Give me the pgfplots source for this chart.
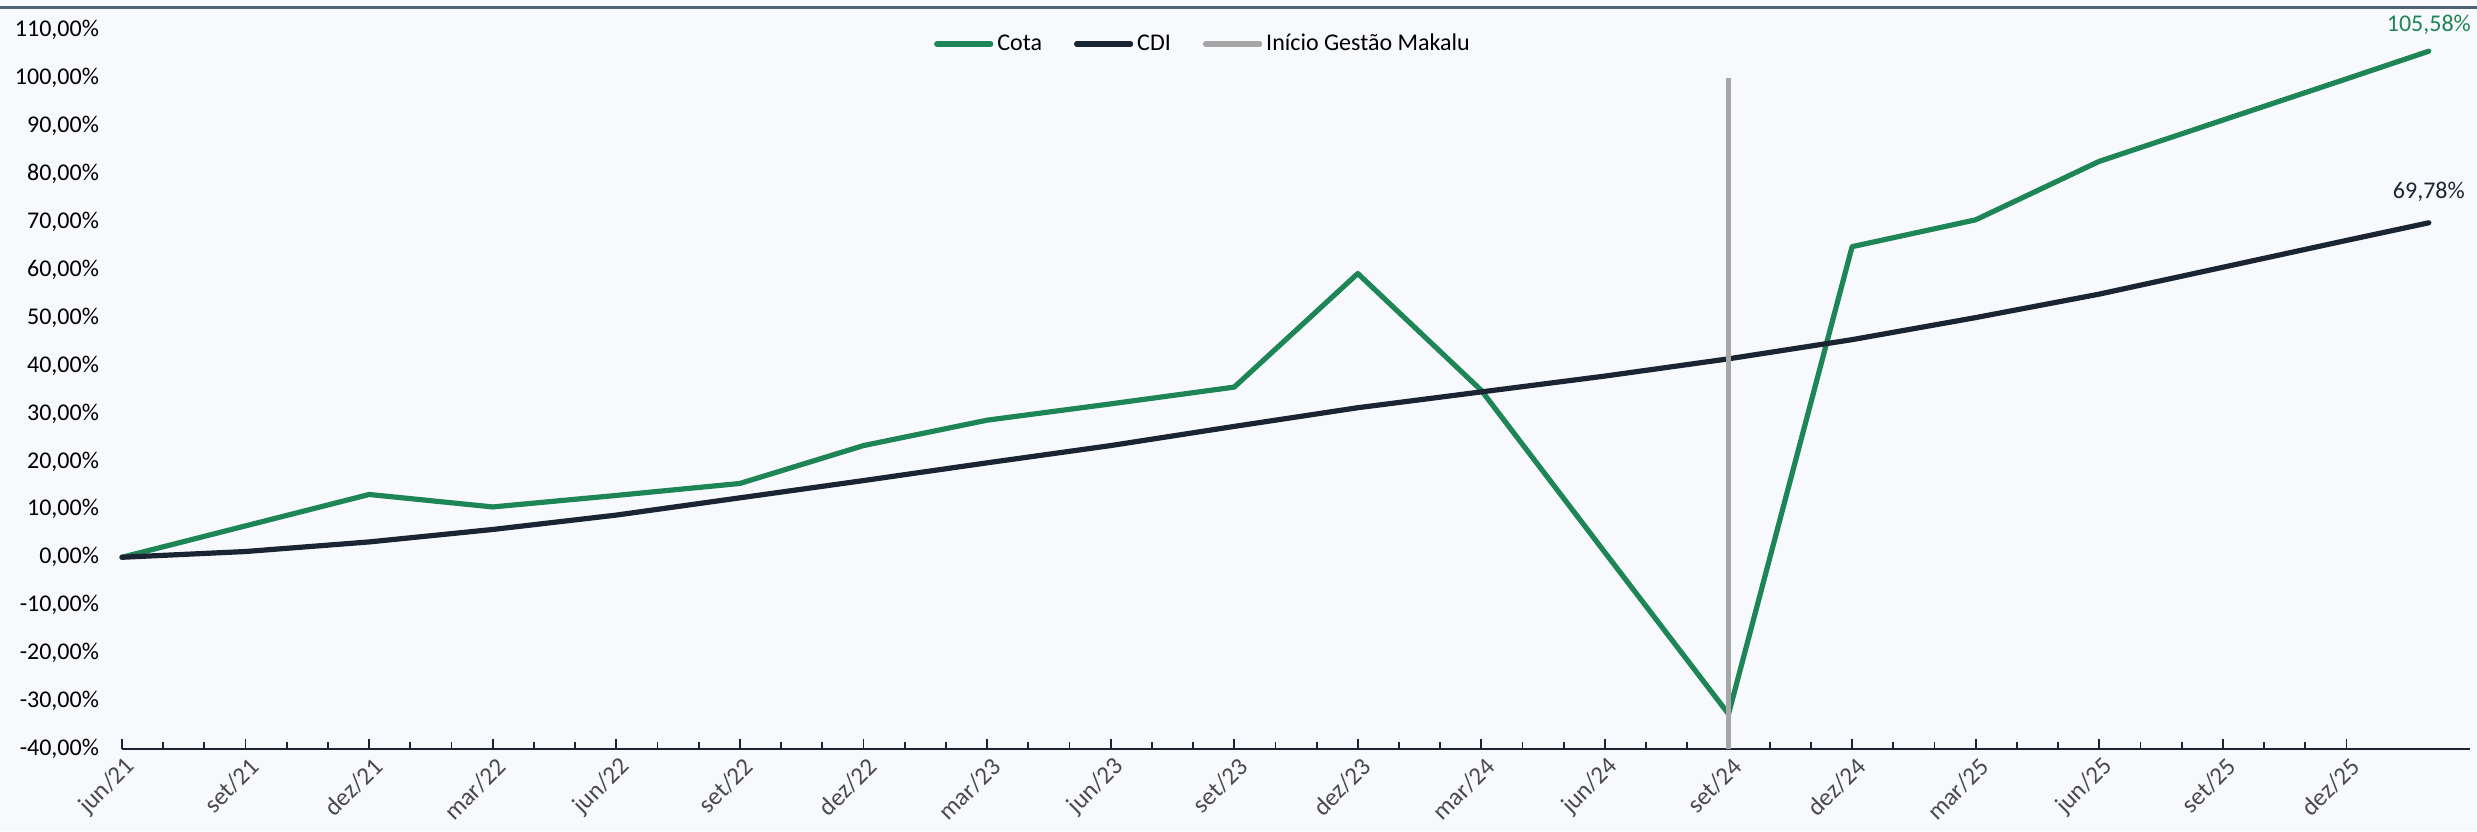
\documentclass[border=0pt]{standalone}
\usepackage{fontspec}
\setmainfont{Carlito}
\usepackage{pgfplots}
\pgfplotsset{compat=1.18}
\usepackage{pgfplotstable}
\definecolor{bgc}{HTML}{F8F9FD}
\definecolor{topc}{HTML}{4F6278}
\definecolor{cota}{HTML}{1E8656}
\definecolor{cdi}{HTML}{1B2433}
\definecolor{gest}{HTML}{A6A6A6}
\definecolor{xlab}{HTML}{4A4A4A}

\pgfplotstableread{
m v
0 0
3 6.55
6 13.1
9 10.5
12 12.9
15 15.4
18 23.3
21 28.6
24 32.0
27 35.5
30 59.2
33 34.8
36 1.0
39 -32.7
42 64.8
45 70.4
48 82.6
51 91.2
54 99.8
56 105.58
}\cotatab

\pgfplotstableread{
m v
0 0
3 1.2
6 3.2
9 5.8
12 8.8
15 12.4
18 16.0
21 19.7
24 23.3
27 27.3
30 31.2
33 34.5
36 37.8
39 41.4
42 45.4
45 50.0
48 54.9
51 60.5
54 66.1
56 69.78
}\cditab

\begin{document}
\begin{tikzpicture}
\fill[bgc] (0,0) rectangle (1238.5pt,415.5pt);
\useasboundingbox (0,0) rectangle (1238.5pt,415.5pt);
\draw[topc, line width=1.5pt] (0,411.75pt) -- (1238.5pt,411.75pt);
\begin{axis}[
  at={(61pt,41pt)}, anchor=south west,
  scale only axis, width=1174pt, height=359.5pt,
  xmin=0, xmax=57, ymin=-40, ymax=110,
  clip=false,
  axis x line*=bottom, axis y line*=left,
  y axis line style={draw=none},
  x axis line style={cdi, line width=1.4pt, -},
  ytick={-40,-30,...,110},
  yticklabels={{-40,00\%},{-30,00\%},{-20,00\%},{-10,00\%},{0,00\%},{10,00\%},{20,00\%},{30,00\%},{40,00\%},{50,00\%},{60,00\%},{70,00\%},{80,00\%},{90,00\%},{100,00\%},{110,00\%}},
  ytick style={draw=none},
  yticklabel style={font=\fontsize{12}{14}\selectfont, text=black, xshift=-8pt},
  xtick={0,3,...,54},
  xticklabels={jun/21,set/21,dez/21,mar/22,jun/22,set/22,dez/22,mar/23,jun/23,set/23,dez/23,mar/24,jun/24,set/24,dez/24,mar/25,jun/25,set/25,dez/25},
  minor x tick num=2,
  tick align=inside,
  major tick length=5pt, minor tick length=3.5pt,
  xtick style={cdi, line width=0.9pt},
  minor x tick style={cdi, line width=0.9pt},
  xticklabel style={font=\fontsize{12.5}{14}\selectfont, text=xlab, rotate=45, anchor=east, yshift=-8pt, xshift=2pt},
  legend style={draw=none, fill=none, legend columns=3, at={(0.4608,0.9805)}, anchor=center,
    font=\fontsize{12}{14}\selectfont,
    /tikz/every even column/.append style={column sep=14pt}},
  legend cell align=left,
  legend image code/.code={\draw[#1, line cap=round] (0pt,0pt) -- (27pt,0pt);},
]
\addplot[cota, line width=2.6pt, line join=round, line cap=round] table[x=m,y=v] {\cotatab};
\addlegendentry{Cota}
\addplot[cdi, line width=2.6pt, line join=round, line cap=round] table[x=m,y=v] {\cditab};
\addlegendentry{CDI}
\addplot[gest, line width=2.7pt] coordinates {(39,-40) (39,100)};
\addlegendentry{Início Gestão Makalu}
\node[text=cota, font=\fontsize{12}{14}\selectfont, anchor=center] at (axis cs:56,105.58) [yshift=13pt] {105,58\%};
\node[text=cdi, font=\fontsize{12}{14}\selectfont, anchor=center] at (axis cs:56,69.78) [yshift=15.5pt] {69,78\%};
\end{axis}
\end{tikzpicture}
\end{document}
